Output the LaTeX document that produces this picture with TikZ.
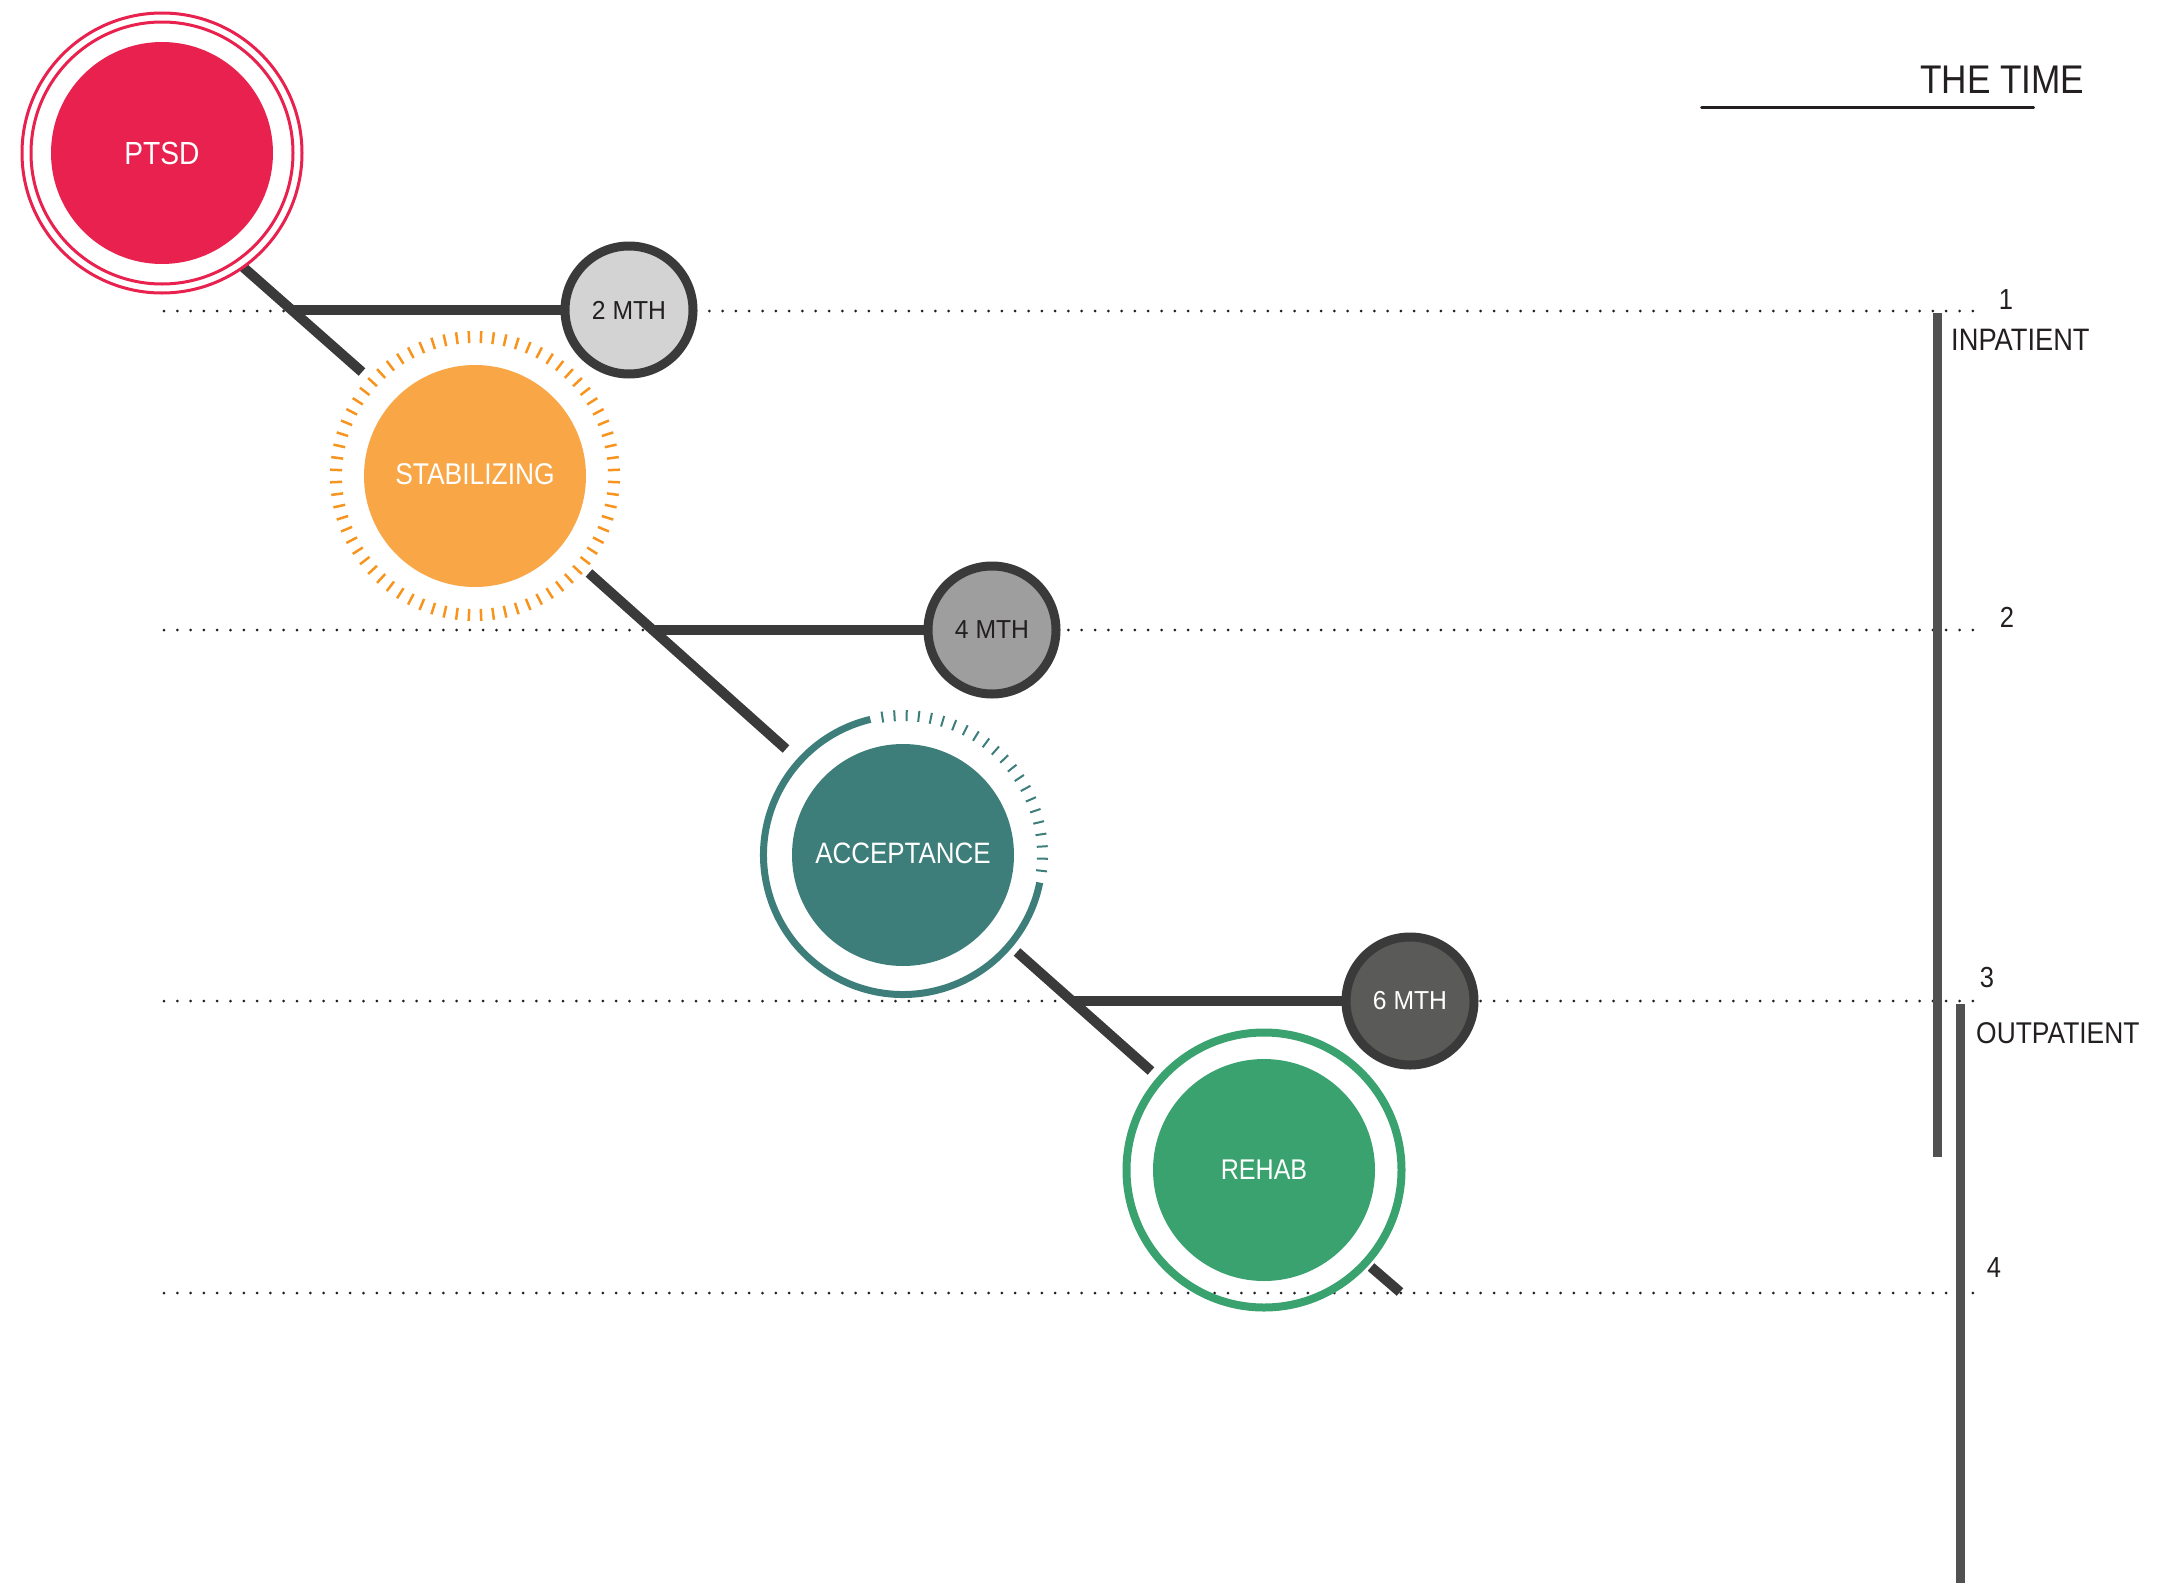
\documentclass[tikz,border=0pt]{standalone}
\usepackage{fontspec}
\setmainfont{Liberation Sans}[FakeStretch=0.88]
\newfontfamily\mthfont{Liberation Sans}[FakeStretch=0.95]
\usetikzlibrary{calc,backgrounds}
\definecolor{ptsdred}{HTML}{E8214F}
\definecolor{stabor}{HTML}{F9A646}
\definecolor{stabtick}{HTML}{F7941D}
\definecolor{accteal}{HTML}{3D7E7B}
\definecolor{rehabgreen}{HTML}{39A26E}
\definecolor{darkline}{HTML}{3A3A3A}
\definecolor{mthA}{HTML}{D3D3D3}
\definecolor{mthB}{HTML}{9D9E9D}
\definecolor{mthC}{HTML}{5A5A59}
\definecolor{barcol}{HTML}{515151}
\definecolor{ink}{HTML}{231F20}
\begin{document}
\begin{tikzpicture}[x=1pt,y=-1pt,
  dotline/.style={line width=3pt, line cap=round, dash pattern=on 0pt off 13.3pt, color=ink},
  conn/.style={line width=10pt, color=darkline},
  bigc/.style={circle, minimum size=222pt, inner sep=0pt, text=white},
  mth/.style={circle, minimum size=128pt, line width=9pt, draw=darkline, inner sep=0pt,
    font=\mthfont\fontsize{26}{30}\selectfont},
  bar/.style={line width=9pt, color=barcol},
  lbl/.style={inner sep=0pt, text=ink},
]
\useasboundingbox (0,0) rectangle (2169,1590);

% main nodes
\node[bigc, fill=ptsdred, font=\fontsize{32}{38}\selectfont] (ptsd) at (162,153) {PTSD};
\node[bigc, fill=stabor, font=\fontsize{30}{36}\selectfont] (stab) at (475,476) {\raisebox{4pt}{STABILIZING}};
\node[bigc, fill=accteal, font=\fontsize{29.5}{35}\selectfont] (acc) at (903,855) {\raisebox{4pt}{ACCEPTANCE}};
\node[bigc, fill=rehabgreen, font=\fontsize{28.5}{34}\selectfont] (rehab) at (1264,1170) {REHAB};

\node[mth, fill=mthA, text=ink] (m2) at (629,310) {2 MTH};
\node[mth, fill=mthB, text=ink] (m4) at (992,630) {4 MTH};
\node[mth, fill=mthC, text=white] (m6) at (1410,1001) {6 MTH};

% dotted time lines and connectors behind the nodes
\coordinate (l1s) at (164,311);  \coordinate (l1e) at (1974,311);
\coordinate (l2s) at (164,630);  \coordinate (l2e) at (1974,630);
\coordinate (l3s) at (164,1001); \coordinate (l3e) at (1974,1001);
\coordinate (l4s) at (164,1293); \coordinate (l4e) at (1974,1293);
\coordinate (d1a) at (243,267);   \coordinate (d1b) at (362,372);
\coordinate (d2a) at (589,573);   \coordinate (d2b) at (786,749);
\coordinate (d3a) at (1017,952);  \coordinate (d3b) at (1151,1071);
\coordinate (d4a) at (1371,1267); \coordinate (d4b) at (1400,1292);
\coordinate (j1) at (294,310);
\coordinate (j2) at (653,630);
\coordinate (j3) at (1073,1001);
\begin{scope}[on background layer]
\draw[dotline] (l1s) -- (l1e);
\draw[dotline] (l2s) -- (l2e);
\draw[dotline] (l3s) -- (l3e);
\draw[dotline] (l4s) -- (l4e);
\draw[conn] (d1a) -- (d1b);
\draw[conn] (d2a) -- (d2b);
\draw[conn] (d3a) -- (d3b);
\draw[conn] (d4a) -- (d4b);
\draw[conn] (j1) -- (m2.center);
\draw[conn] (j2) -- (m4.center);
\draw[conn] (j3) -- (m6.center);
\end{scope}

% PTSD double ring
\draw[ptsdred, line width=3pt] (ptsd.center) circle[radius=131pt];
\draw[ptsdred, line width=3pt] (ptsd.center) circle[radius=140pt];

% STABILIZING tick ring
\foreach \a in {2.5,7.5,...,357.5}
  \draw[stabtick, line width=2.5pt] ($(stab.center)+(\a:133pt)$) -- ($(stab.center)+(\a:145pt)$);

% ACCEPTANCE partial ring + ticks
\draw[accteal, line width=7pt] ($(acc.center)+(103.5:139.5pt)$) arc[start angle=103.5, end angle=348.6, radius=139.5pt];
\foreach \a in {-6.5,-1.5,...,98.5}
  \draw[accteal, line width=2pt] ($(acc.center)+(\a:134pt)$) -- ($(acc.center)+(\a:145pt)$);

% REHAB ring
\draw[rehabgreen, line width=8pt] (rehab.center) circle[radius=137.5pt];

% vertical bars
\coordinate (b1t) at (1937.5,313);  \coordinate (b1b) at (1937.5,1157);
\coordinate (b2t) at (1960.5,1004); \coordinate (b2b) at (1960.5,1583);
\draw[bar] (b1t) -- (b1b);
\draw[bar] (b2t) -- (b2b);

% labels
\node[lbl, font=\fontsize{29}{34}\selectfont] (n1) at (2006,300) {1};
\node[lbl, font=\fontsize{29}{34}\selectfont] (n2) at (2007,617) {2};
\node[lbl, font=\fontsize{29}{34}\selectfont] (n3) at (1987,978) {3};
\node[lbl, font=\fontsize{29}{34}\selectfont] (n4) at (1994,1268) {4};
\node[lbl, anchor=west, font=\fontsize{31}{36}\selectfont] (inp) at (1951,340) {INPATIENT};
\node[lbl, anchor=west, font=\fontsize{30}{35}\selectfont] (outp) at (1976,1033) {OUTPATIENT};
\node[lbl, anchor=west, font=\fontsize{40}{46}\selectfont] (time) at (1920,80) {THE TIME};
\coordinate (tl1) at (1701.5,107); \coordinate (tl2) at (2033.5,107);
\draw[ink, line width=3pt, line cap=round] (tl1) -- (tl2);
\end{tikzpicture}
\end{document}
